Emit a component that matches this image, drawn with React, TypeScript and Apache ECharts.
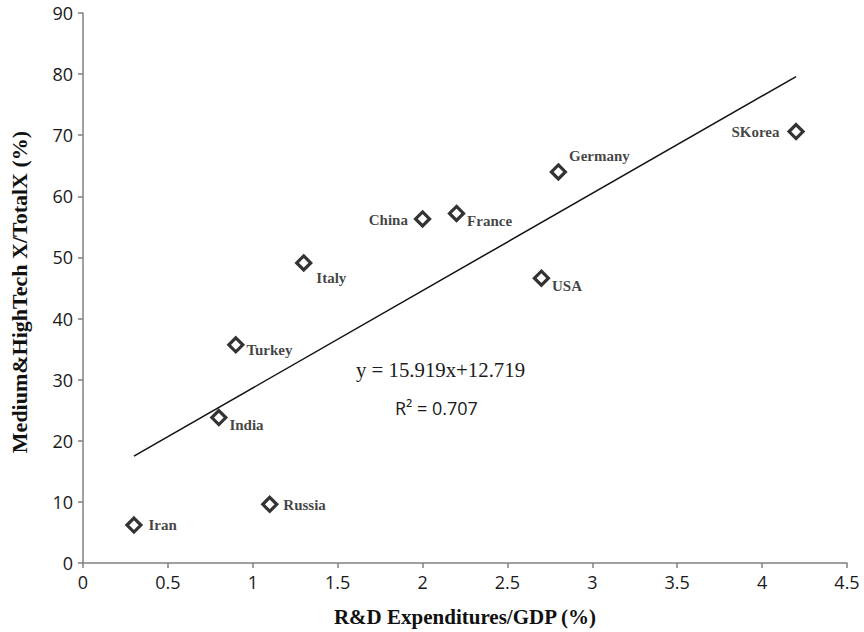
import React, { useEffect, useRef } from "react";
import * as echarts from "echarts";

const countries = ["Iran", "Russia", "India", "Turkey", "Italy", "China", "France", "Germany", "USA", "SKorea"];
const rdGdp = [0.3, 1.1, 0.8, 0.9, 1.3, 2.0, 2.2, 2.8, 2.7, 4.2];
const techShare = [6.2, 9.6, 23.8, 35.7, 49.1, 56.3, 57.2, 64.0, 46.6, 70.6];
const trendX = [0.3, 4.2];
const trendY = [17.5, 79.6];
const equationText = "y = 15.919x+12.719";
const r2Text = "R² = 0.707";

// label placement per country (style only)
const labelPlacement: Record<string, { position: string; offset: number[] }> = {
  Iran: { position: "right", offset: [0, 0] },
  Russia: { position: "right", offset: [-1, 1] },
  India: { position: "right", offset: [-4, 7] },
  Turkey: { position: "right", offset: [-4, 5] },
  Italy: { position: "right", offset: [-2, 15] },
  China: { position: "left", offset: [0, 1] },
  France: { position: "right", offset: [-4, 8] },
  Germany: { position: "right", offset: [-4, -16] },
  USA: { position: "right", offset: [-4, 8] },
  SKorea: { position: "left", offset: [-2, 0] },
};

export default function App() {
  const ref = useRef<HTMLDivElement>(null);
  useEffect(() => {
    document.body.style.margin = "0";
    if (!ref.current) return;
    const chart = echarts.init(ref.current, undefined, { renderer: "svg" });
    const tickFont = { fontFamily: "Open Sans", fontSize: 18, color: "#1a1a1a" };
    chart.setOption({
      animation: false,
      backgroundColor: "#fff",
      grid: { left: 83, right: 17, top: 13, bottom: 69, outerBoundsMode: "none", containLabel: false },
      xAxis: {
        type: "value",
        min: 0,
        max: 4.5,
        interval: 0.5,
        name: "R&D Expenditures/GDP (%)",
        nameLocation: "middle",
        nameGap: 43,
        nameTextStyle: { fontFamily: "Liberation Serif", fontWeight: "bold", fontSize: 21, color: "#111" },
        axisLine: { show: true, lineStyle: { color: "#808080", width: 1.5 } },
        axisTick: { show: true, inside: false, length: 5, lineStyle: { color: "#808080", width: 1.5 } },
        axisLabel: { ...tickFont, margin: 10 },
        splitLine: { show: false },
      },
      yAxis: {
        type: "value",
        min: 0,
        max: 90,
        interval: 10,
        name: "Medium&HighTech X/TotalX (%)",
        nameLocation: "middle",
        nameGap: 53,
        nameTextStyle: {
          fontFamily: "Liberation Serif",
          fontWeight: "bold",
          fontSize: 22,
          color: "#111",
          padding: [0, 8, 0, 0],
        },
        axisLine: { show: true, lineStyle: { color: "#808080", width: 1.5 } },
        axisTick: { show: true, inside: false, length: 5, lineStyle: { color: "#808080", width: 1.5 } },
        axisLabel: { ...tickFont, margin: 10 },
        splitLine: { show: false },
      },
      graphic: [
        {
          type: "text",
          x: 356,
          y: 369,
          style: {
            text: equationText,
            fontFamily: "Liberation Serif",
            fontSize: 20.8,
            fill: "#1a1a1a",
            align: "left",
            verticalAlign: "middle",
          },
        },
        {
          type: "text",
          x: 395,
          y: 408,
          style: {
            text: r2Text,
            fontFamily: "Open Sans",
            fontSize: 18,
            fill: "#1a1a1a",
            align: "left",
            verticalAlign: "middle",
          },
        },
      ],
      series: [
        {
          type: "line",
          data: trendX.map((x, i) => [x, trendY[i]]),
          symbol: "none",
          lineStyle: { color: "#111", width: 1.5 },
          silent: true,
          z: 1,
        },
        {
          type: "scatter",
          symbol: "diamond",
          symbolSize: 14,
          itemStyle: { color: "#fff", borderColor: "#000", borderWidth: 3.2 },
          z: 3,
          data: countries.map((c, i) => ({
            value: [rdGdp[i], techShare[i]],
            name: c,
            label: {
              show: true,
              formatter: c,
              position: labelPlacement[c].position,
              offset: labelPlacement[c].offset,
              distance: 6,
              fontFamily: "Liberation Serif",
              fontWeight: "bold",
              fontSize: 15,
              color: "#111",
            },
          })),
        },
      ],
    });
    return () => chart.dispose();
  }, []);
  return <div ref={ref} style={{ width: 864, height: 632 }} />;
}
